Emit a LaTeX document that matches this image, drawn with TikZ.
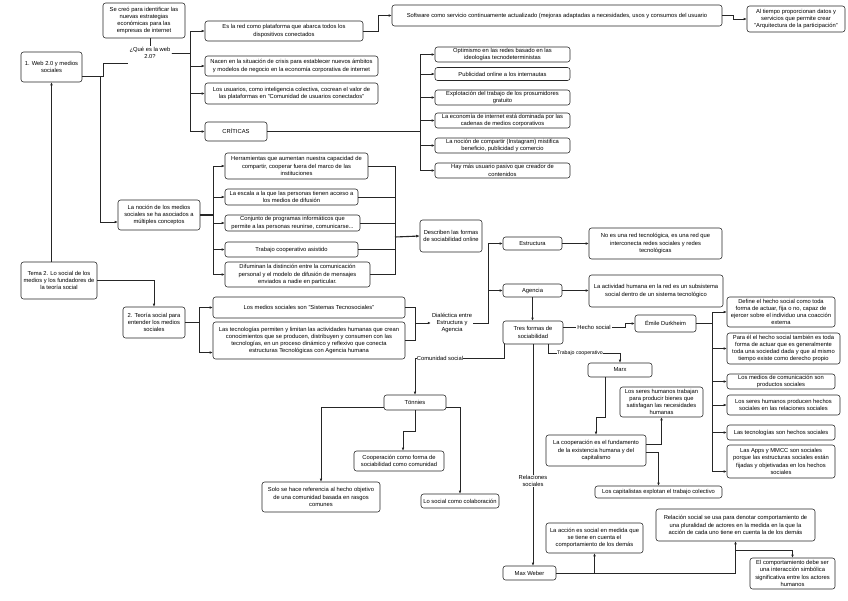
\documentclass[tikz,border=0pt]{standalone}
\usepackage{fontspec}
\setmainfont{Liberation Sans}
\usetikzlibrary{arrows.meta}
\newcommand\fs{\fontsize{5.8}{7.25}\selectfont}
\newcommand\mybox[6]{\node[box,minimum width=#4pt,minimum height=#5pt] (#1) at (#2,#3) {#6};}
\begin{document}
\begin{tikzpicture}[x=1pt,y=-1pt,
  box/.style={draw=black!85, line width=0.55pt, rounded corners=2.5pt, align=center, font=\fs, inner sep=0.5pt, fill=white},
  txt/.style={align=center, font=\fs, inner sep=1pt},
  lbl/.style={font=\fs, fill=white, inner sep=0.4pt},
  ln/.style={draw=black!85, line width=0.55pt},
  arr/.style={ln, -{Latex[length=3pt,width=2.6pt]}},
  thk/.style={draw=black!85, line width=1.1pt}]
\useasboundingbox[fill=white] (0,0) rectangle (848,600);

% ---- nodes ----
\mybox{web}{51.5}{67}{61}{30}{1. Web 2.0  y medios\\sociales}
\mybox{secreo}{144}{20.5}{82}{35}{Se creó para identificar las\\nuevas estrategias\\económicas para las\\empresas de internet}
\node[txt] (que) at (150,53) {¿Qué es la web\\2.0?};
\mybox{esred}{284}{31}{158}{20}{Es la red como plataforma que abarca todos los\\dispositivos conectados}
\mybox{nacen}{291.5}{66}{173}{20}{Nacen en la situación de crisis para establecer nuevos ámbitos\\y modelos de negocio en la economía corporativa de internet}
\mybox{usuarios}{291.5}{93.5}{173}{21}{Los usuarios, como inteligencia colectiva, cocrean el valor de\\las plataformas en "Comunidad de usuarios conectados"}
\mybox{criticas}{236}{131.5}{62}{19}{CRÍTICAS}
\mybox{software}{557}{15.5}{330}{21}{Software como servicio continuamente actualizado (mejoras adaptadas a necesidades, usos y consumos del usuario}
\mybox{altiempo}{796}{19}{98}{26}{Al tiempo proporcionan datos y\\servicios que permite crear\\"Arquitectura de la participación"}
\mybox{c1}{502.5}{54.5}{135}{15}{Optimismo en las redes basado en las\\ideologías tecnodeterministas}
\mybox{c2}{502.5}{74}{135}{13}{Publicidad online a los internautas}
\mybox{c3}{502.5}{97.5}{135}{15}{Explotación del trabajo de los prosumidores\\gratuito}
\mybox{c4}{502.5}{120.5}{135}{15}{La economía de internet está dominada por las\\cadenas de medios corporativos}
\mybox{c5}{502.5}{145.5}{135}{15}{La noción de compartir (Instagram) mistifica\\beneficio, publicidad y comercio}
\mybox{c6}{502.5}{170.5}{135}{15}{Hay más usuario pasivo que creador de\\contenidos}
\mybox{nocion}{159}{215}{82}{30}{La noción de los medios\\sociales se ha asociados a\\múltiples conceptos}
\mybox{h1}{296.5}{166}{143}{26}{Herramientas que aumentan nuestra capacidad de\\compartir, cooperar fuera del marco de las\\instituciones}
\mybox{h2}{291.5}{197}{133}{16}{La escala a la que las personas tienen acceso a\\los medios de difusión}
\mybox{h3}{292.5}{223}{135}{16}{Conjunto de programas informáticos que\\permite a las personas reunirse, comunicarse...}
\mybox{h4}{291.5}{249.5}{133}{15}{Trabajo cooperativo asistido}
\mybox{h5}{297.5}{274.5}{145}{25}{Difuminan la distinción entre la comunicación\\personal y el modelo de difusión de mensajes\\enviados a nadie en particular.}
\mybox{describen}{451}{236}{62}{32}{Describen las formas\\de sociabilidad online}
\mybox{tema}{59}{280.5}{76}{37}{Tema 2. Lo social de los\\medios y los fundadores de\\la teoría social}
\mybox{teoria}{154}{322.5}{62}{31}{2. Teoría social para\\entender los medios\\sociales}
\mybox{sistemas}{309}{307.5}{192}{21}{Los medios sociales son "Sistemas Tecnosociales"}
\mybox{tecnol}{309}{340.5}{192}{37}{Las tecnologías permiten y limitan las actividades humanas que crean\\conocimientos que se producen, distribuyen y consumen con las\\tecnologías, en un proceso dinámico y reflexivo que conecta\\estructuras Tecnológicas con Agencia humana}
\node[txt] (dialectica) at (452,323) {Dialéctica entre\\Estructura y\\Agencia};
\mybox{estructura}{532.5}{243.5}{59}{13}{Estructura}
\mybox{agencia}{532.5}{290.5}{59}{13}{Agencia}
\mybox{noesred}{655.5}{243.5}{133}{31}{No es una red tecnológica, es una red que\\interconecta redes sociales y redes\\tecnológicas}
\mybox{actividad}{656}{291}{134}{32}{La actividad humana en la red es un subsistema\\social dentro de un sistema tecnológico}
\mybox{tres}{533}{332.5}{60}{23}{Tres formas de\\sociabilidad}
\mybox{durkheim}{665.5}{323.5}{61}{17}{Émile Durkheim}
\mybox{d1}{781}{312}{108}{30}{Define el hecho social como toda\\forma de actuar, fija o no, capaz de\\ejercer sobre el individuo una coacción\\externa}
\mybox{d2}{783.5}{348.5}{113}{31}{Para él el hecho social también es toda\\forma de actuar que es generalmente\\toda una sociedad dada y que al mismo\\tiempo existe como derecho propio}
\mybox{d3}{781}{381.5}{108}{15}{Los medios de comunicación son\\productos sociales}
\mybox{d4}{783.5}{405}{113}{20}{Los seres humanos producen hechos\\sociales en las relaciones sociales}
\mybox{d5}{781}{432.5}{108}{15}{Las tecnologías son hechos sociales}
\mybox{d6}{781}{461.5}{108}{33}{Las Apps y MMCC son sociales\\porque las estructuras sociales están\\fijadas y objetivadas en los hechos\\sociales}
\mybox{marx}{620}{370}{64}{14}{Marx}
\mybox{seres}{661.5}{402}{83}{30}{Los seres humanos trabajan\\para producir bienes que\\satisfagan las necesidades\\humanas}
\mybox{coop}{596}{450.5}{100}{31}{La cooperación es el fundamento\\de la existencia humana y del\\capitalismo}
\mybox{capital}{658.5}{492}{127}{12}{Los capitalistas explotan el trabajo colectivo}
\mybox{weber}{529.5}{573}{53}{14}{Max Weber}
\mybox{accion}{594.5}{538}{97}{30}{La acción es social en medida que\\se tiene en cuenta el\\comportamiento de los demás}
\mybox{relacion}{735.5}{525}{159}{32}{Relación social se usa para denotar comportamiento de\\una pluralidad de actores en la medida en la que la\\acción de cada uno tiene en cuenta la de los demás}
\mybox{comport}{792.5}{573.5}{85}{31}{El comportamiento debe ser\\una interacción simbólica\\significativa entre los actores\\humanos}
\mybox{tonnies}{415}{402.5}{62}{15}{Tönnies}
\mybox{coopcom}{399}{461}{90}{20}{Cooperación como forma de\\sociabilidad como comunidad}
\mybox{solo}{321}{497}{118}{30}{Solo se hace referencia al hecho objetivo\\de una comunidad basada en rasgos\\comunes}
\mybox{losocial}{460}{501}{78}{14}{Lo social como colaboración}

% ---- connectors ----
\draw[ln] ([yshift=-9pt]web.east) -- (103,76) |- (que.west |- 0,63);
\draw[arr] ([yshift=-9pt]web.east) -- (100,76) |- ([yshift=-7pt]nocion.west);
\draw[ln] (que.north |- secreo.south) -- (que.north);
\foreach \n in {esred,nacen,usuarios,criticas}
  \draw[arr] (que.east) -- (190,53) |- (\n.west);
\draw[arr] (esred.east) -- (378,31) |- (software.west);
\draw[arr] (software.east) -- (733,15.5) |- (altiempo.west);
\foreach \n in {c1,c2,c3,c4,c5,c6}
  \draw[arr] (criticas.east) -- (420,131.5) |- (\n.west);
\draw[thk] (nocion.east) -- (213,215);
\foreach \n in {h1,h2,h3,h4,h5}
  \draw[arr] (213,215) |- (\n.west);
\coordinate (jd) at (395,237);
\foreach \n in {h1,h2,h3,h4,h5}
  \draw[ln] (\n.east) -| (jd);
\draw[thk,-{Latex[length=3.5pt,width=3pt]}] (jd) -- (describen.west);
\draw[arr] (web.south |- tema.north) -- (web.south);
\draw[arr] (tema.east) -| (teoria.north);
\draw[arr] (teoria.east) -- (199,322.5) |- (sistemas.west);
\draw[arr] (teoria.east) -- (199,322.5) |- ([yshift=-12pt]tecnol.west);
\coordinate (jdl) at (415,323);
\draw[ln] (sistemas.east) -| (jdl);
\draw[ln] (tecnol.east) -| (jdl);
\draw[arr] (jdl) -- (dialectica.west);
\draw[arr] (dialectica.east) -- (488,323) |- (estructura.west);
\draw[arr] (dialectica.east) -- (488,323) |- (agencia.west);
\draw[arr] (estructura.east) -- (noesred.west);
\draw[arr] (agencia.east) -- (actividad.west |- agencia.east);
\draw[arr] (agencia.south) -- (tres.north -| agencia.south);
% Durkheim
\node[txt] (hecho) at (594,327) {Hecho social};
\draw[ln] ([yshift=5.5pt]tres.east) -- (hecho.west);
\draw[arr] (hecho.east) -- (625,327) |- (durkheim.west);
\draw[thk] (durkheim.east) -- (712,323.5);
\foreach \n in {d1,d2,d3,d4,d5}
  \draw[arr] (712,323.5) |- (\n.west);
\draw[arr] (712,323.5) |- ([yshift=-10pt]d6.west);
% Marx
\draw[arr] ([xshift=15pt]tres.south) -- (548,353) -- (620,353) -- (marx.north);
\node[lbl,font=\fontsize{5.2}{6}\selectfont] (trab) at (580,353) {Trabajo cooperativo};
\draw[arr] ([xshift=-15pt]marx.south) -- (605,417) -| (coop.north);
\draw[arr] ([yshift=6pt]coop.east) -| (seres.south);
\draw[arr] ([yshift=-2pt]coop.east) -| (capital.north);
% Weber
\draw[arr] (tres.south) -- (tres.south |- weber.north);
\node[lbl,align=center] (relsoc) at (533,481) {Relaciones\\sociales};
\draw[arr] (weber.east) -| (accion.south);
\draw[arr] (weber.east) -| (relacion.south);
\draw[arr] ([yshift=-9pt]relacion.south) -| (comport.north);
% Tonnies
\draw[arr] ([xshift=-29pt]tres.south) -- (504,358) -| (tonnies.north);
\node[lbl] (comsoc) at (440,358) {Comunidad social};
\draw[arr] (tonnies.south) -- (415,431) -| ([xshift=4pt]coopcom.north);
\draw[arr] ([yshift=-4.5pt]tonnies.west) -| (solo.north);
\draw[arr] ([yshift=-4.5pt]tonnies.east) -| (losocial.north);
\end{tikzpicture}
\end{document}
